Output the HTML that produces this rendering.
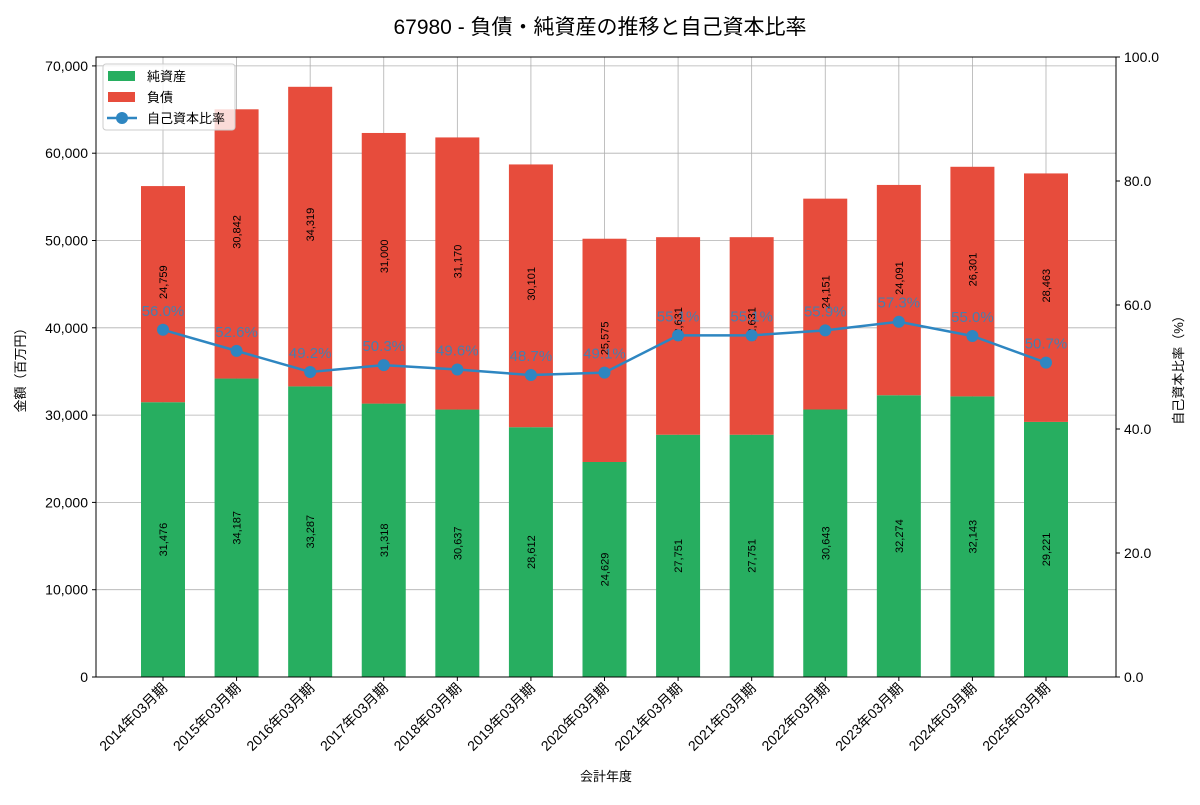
<!DOCTYPE html>
<html><head><meta charset="utf-8"><style>
body{margin:0;background:#fff;font-family:"Liberation Sans","Noto Sans CJK JP",sans-serif}
svg text{font-family:"Liberation Sans","Noto Sans CJK JP",sans-serif}
</style></head><body>
<svg id="c" width="1200" height="800" xmlns="http://www.w3.org/2000/svg">
<text x="600" y="34" text-anchor="middle" font-size="21" fill="#000">67980 - 負債・純資産の推移と自己資本比率</text>
</svg>
<script>
const categories=["2014年03月期","2015年03月期","2016年03月期","2017年03月期","2018年03月期","2019年03月期","2020年03月期","2021年03月期","2021年03月期","2022年03月期","2023年03月期","2024年03月期","2025年03月期"];
const netAssets=[31476,34187,33287,31318,30637,28612,24629,27751,27751,30643,32274,32143,29221];
const liabilities=[24759,30842,34319,31000,31170,30101,25575,22631,22631,24151,24091,26301,28463];
const ratios=[56.0,52.6,49.2,50.3,49.6,48.7,49.1,55.1,55.1,55.9,57.3,55.0,50.7];
const leftTicks=[0,10000,20000,30000,40000,50000,60000,70000];
const rightTicks=[0,20,40,60,80,100];
const NS="http://www.w3.org/2000/svg";
const svg=document.getElementById('c');
const L=96,R=1116,T=57,B=677;
const yMax=71020;
const yL=v=>B-(v/yMax)*(B-T);
const yR=v=>B-(v/100)*(B-T);
const step=(R-L)/(categories.length+0.37);
const xC=i=>163+i*((1046-163)/(categories.length-1));
const bw=44;
function el(t,a,p){const e=document.createElementNS(NS,t);for(const k in a)e.setAttribute(k,a[k]);(p||svg).appendChild(e);return e;}
function fmt(v){return v.toLocaleString('en-US');}
// grid
leftTicks.forEach(v=>{const g=el('line',{x1:L,x2:R,y1:yL(v),y2:yL(v),stroke:'#b0b0b0','stroke-width':0.8});


const t=el('line',{x1:L-4,x2:L,y1:yL(v),y2:yL(v),stroke:'#000'});
const tx=el('text',{x:L-8,y:yL(v)+5,'text-anchor':'end','font-size':14});tx.textContent=fmt(v);

});
categories.forEach((c,i)=>{const g=el('line',{x1:xC(i),x2:xC(i),y1:T,y2:B,stroke:'#b0b0b0','stroke-width':0.8});

});
rightTicks.forEach(v=>{el('line',{x1:R,x2:R+4,y1:yR(v),y2:yR(v),stroke:'#000'});
const tx=el('text',{x:R+8,y:yR(v)+5,'font-size':14});tx.textContent=v.toFixed(1);

});
// bars
categories.forEach((c,i)=>{
const x=xC(i)-bw/2;
const g=el('rect',{x:x,y:yL(netAssets[i]),width:bw,height:B-yL(netAssets[i]),fill:'#27ae60'});


const r=el('rect',{x:x,y:yL(netAssets[i]+liabilities[i]),width:bw,height:yL(netAssets[i])-yL(netAssets[i]+liabilities[i]),fill:'#e74c3c'});


const m1=yL(netAssets[i]/2),m2=yL(netAssets[i]+liabilities[i]/2)+-12;
[[m1,netAssets[i]],[m2,liabilities[i]]].forEach(([m,v])=>{
const t=el('text',{x:0,y:0,'text-anchor':'middle','font-size':11,transform:`translate(${xC(i)+4},${m}) rotate(-90)`});t.textContent=fmt(v);

});
const xl=el('text',{x:0,y:0,'text-anchor':'end','font-size':14,transform:`translate(${xC(i)+5},${B+12}) rotate(-45)`});xl.textContent=c;


el('line',{x1:xC(i),x2:xC(i),y1:B,y2:B+4,stroke:'#000'});
});
// line
const pts=ratios.map((v,i)=>xC(i)+','+yR(v)).join(' ');
const pl=el('polyline',{points:pts,fill:'none',stroke:'#2e86c1','stroke-width':2.5});


ratios.forEach((v,i)=>{const c=el('circle',{cx:xC(i),cy:yR(v),r:6,fill:'#2e86c1'});


const t=el('text',{x:xC(i),y:yR(v)-14,'text-anchor':'middle','font-size':15,fill:'#2e86c1','fill-opacity':0.85});t.textContent=v.toFixed(1)+'%';

});
// frame
el('rect',{x:L,y:T,width:R-L,height:B-T,fill:'none',stroke:'#000','stroke-width':1});
// axis titles
let t=el('text',{x:0,y:0,'text-anchor':'middle','font-size':13,transform:`translate(25,${(T+B)/2}) rotate(-90)`});t.textContent='金額（百万円）';

t=el('text',{x:0,y:0,'text-anchor':'middle','font-size':13,transform:`translate(1183,${(T+B)/2}) rotate(-90)`});t.textContent='自己資本比率（%）';

t=el('text',{x:(L+R)/2,y:781,'text-anchor':'middle','font-size':13});t.textContent='会計年度';

// legend
const lg=el('g',{});


el('rect',{x:103,y:64,width:132,height:66,rx:3,fill:'#fff','fill-opacity':0.8,stroke:'#ccc'},lg);
el('rect',{x:108,y:71,width:27,height:10,fill:'#27ae60'},lg);
el('rect',{x:108,y:92,width:27,height:10,fill:'#e74c3c'},lg);
el('line',{x1:107,x2:137,y1:118,y2:118,stroke:'#2e86c1','stroke-width':2.5},lg);
el('circle',{cx:122,cy:118,r:6,fill:'#2e86c1'},lg);
[['純資産',81],['負債',102],['自己資本比率',123]].forEach(([s,y])=>{const tt=el('text',{x:147,y:y,'font-size':13},lg);tt.textContent=s;

});
</script>
</body></html>
